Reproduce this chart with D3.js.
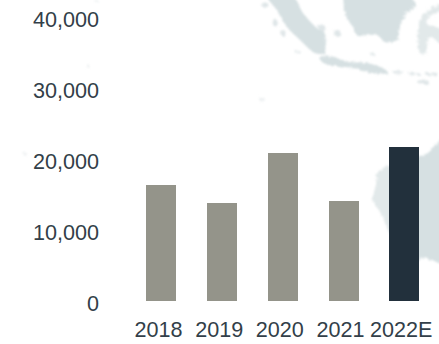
<!DOCTYPE html>
<html>
<head>
<meta charset="utf-8">
<script src="https://cdn.jsdelivr.net/npm/d3@7"></script>
<style>
html, body { margin: 0; padding: 0; background: #fff; }
svg { display: block; }
text { font-family: "Liberation Sans", Arial, sans-serif; font-size: 21.6px; fill: #333f49; }
</style>
</head>
<body>
<svg id="chart" width="439" height="344"></svg>
<script>
const years = ["2018", "2019", "2020", "2021", "2022E"];
const values = [16340, 13800, 20850, 14090, 21690];
const barColors = ["#94948a", "#94948a", "#94948a", "#94948a", "#22303c"];
const yTicks = [0, 10000, 20000, 30000, 40000];

// Backdrop map outlines, given in page pixels
const sumatra = [[268,-3],[293,-3],[303,13],[317,28],[324,32],[324,53],[315,53],[300,40],[287,27],[277,10]];
const borneo = [[345,-3],[410,-3],[415,5],[407,13],[400,27],[397,40],[385,42],[377,35],[357,35],[353,27],[347,18]];
const java = [[320,57],[333,57],[350,62],[367,63],[383,68],[388,73],[373,73],[353,68],[330,65],[322,62]];
const sulawesi = [[418,30],[423,14],[442,5],[442,11],[429,16],[427,24],[442,30],[442,44],[430,37],[425,53],[420,53]];
const australiaWest = [[378,172],[392,166],[392,236],[387,228],[382,215],[373,200],[376,185]];
const australiaEast = [[415,159],[428,153],[435,145],[442,141],[442,263],[432,260],[423,258],[415,262]];
const landMasses = [sumatra, borneo, java, australiaEast];
const paleLand = [sulawesi, australiaWest];
const islets = [[265,5,3.5,2.5],[275,23,2.5,3.5],[283,33,2.5,3],[298,52,2.5,1.5],[322,28,4,3],[337,33,3.5,3],[372,54,2.5,1.5],[423,82,6,2],[398,72,5,1.5],[414,74,6,1.5],[432,74,7,1.5]];
const specks = [[88,66,2,1.5],[262,99,3,2],[25,154,2,1.5],[96,1,2,1]];

const svg = d3.select("#chart");

const x = d3.scaleBand().domain(years).range([131.275, 434.4]).paddingInner(0.5058).paddingOuter(0.25);
const y = d3.scaleLinear().domain([0, 40000]).range([301, 17]);

// Rough, soft-edged map behind the bars
const filter = svg.append("defs").append("filter").attr("id", "soft")
  .attr("color-interpolation-filters", "sRGB")
  .attr("x", "-10%").attr("y", "-10%").attr("width", "120%").attr("height", "120%");
filter.append("feTurbulence").attr("type", "fractalNoise").attr("baseFrequency", 0.35)
  .attr("numOctaves", 2).attr("seed", 4).attr("result", "grain");
filter.append("feDisplacementMap").attr("in", "SourceGraphic").attr("in2", "grain")
  .attr("scale", 5).attr("result", "rough");
filter.append("feGaussianBlur").attr("in", "rough").attr("stdDeviation", 0.8);

const map = svg.append("g").attr("filter", "url(#soft)");
const outline = d3.line().curve(d3.curveCatmullRomClosed.alpha(0.5));
map.append("g").attr("fill", "#d6e0e2").selectAll("path").data(landMasses).join("path").attr("d", outline);
map.append("g").attr("fill", "#e2e9ea").selectAll("path").data(paleLand).join("path").attr("d", outline);
map.append("g").attr("fill", "#dfe6e8").selectAll("ellipse").data(islets).join("ellipse")
  .attr("cx", d => d[0]).attr("cy", d => d[1]).attr("rx", d => d[2]).attr("ry", d => d[3]);
map.append("g").attr("fill", "#eef1f2").selectAll("ellipse").data(specks).join("ellipse")
  .attr("cx", d => d[0]).attr("cy", d => d[1]).attr("rx", d => d[2]).attr("ry", d => d[3]);

svg.append("g").attr("shape-rendering", "crispEdges").selectAll("rect").data(values).join("rect")
  .attr("x", (d, i) => x(years[i]))
  .attr("y", d => y(d))
  .attr("width", x.bandwidth())
  .attr("height", d => y(0) - y(d))
  .attr("fill", (d, i) => barColors[i]);

const yAxis = svg.append("g").attr("transform", "translate(99,3)")
  .call(d3.axisLeft(y).tickValues(yTicks).tickFormat(d3.format(",")).tickSize(0).tickPadding(0));
yAxis.select(".domain").remove();

const xAxis = svg.append("g").attr("transform", "translate(-3,301)")
  .call(d3.axisBottom(x).tickSize(0).tickPadding(21));
xAxis.select(".domain").remove();

svg.selectAll(".tick text").style("font-size", "21.6px").style("font-family", '"Liberation Sans", Arial, sans-serif').style("fill", "#333f49");
</script>
</body>
</html>
